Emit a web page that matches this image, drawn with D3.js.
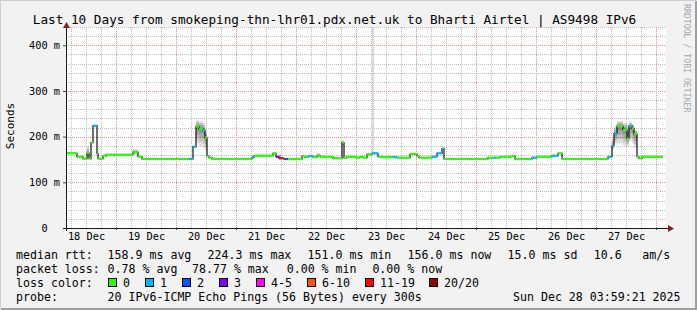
<!DOCTYPE html>
<html>
<head>
<meta charset="utf-8">
<script src="https://cdn.jsdelivr.net/npm/d3@7"></script>
<style>
  body { margin: 0; background: #f2f2f2; }
  svg { display: block; }
  text { font-family: "DejaVu Sans Mono", monospace; }
</style>
</head>
<body>
<div id="chart"></div>
<script>
//Chart text
var titleText = "Last 10 Days from smokeping-thn-lhr01.pdx.net.uk to Bharti Airtel | AS9498 IPv6";
var dayLabels = ["18 Dec", "19 Dec", "20 Dec", "21 Dec", "22 Dec", "23 Dec", "24 Dec", "25 Dec", "26 Dec", "27 Dec"];
var yTicks = [0, 100, 200, 300, 400];

//Median rtt steps: start hour (since Dec 18 04:00), median ms, loss bucket
var stepHours = [0, 4.4, 6.8, 8.4, 9.2, 10, 10.8, 12.4, 12.8, 14.8, 16, 26.8, 28.8, 30.4, 49.2, 50.8,
  52, 53.2, 54.8, 55.6, 56.4, 57.2, 58.4, 74.4, 75.2, 82.8, 84, 85.2, 87.2, 88.8, 94.4, 95.6,
  96.8, 98.8, 100.4, 101.6, 106.8, 110.4, 111.2, 112.4, 116, 117.6, 118.8, 120.4, 122.4, 124.8,
  126.8, 130.8, 132.4, 137.6, 140.4, 141.2, 146.4, 148.4, 150.4, 151.2, 168.8, 171.2, 172, 173.6,
  178.4, 179.6, 186.4, 188.4, 194.4, 196.8, 198.4, 216.8, 218.4, 219.2, 220.4, 222.8, 224.4, 225.2,
  226.4, 227.2, 228.4, 229.2, 230.4];
var lastHour = 238.8;
var medianMs = [163.5, 156, 151.7, 164, 152, 187, 224, 163, 151.7, 157.6, 160.5, 166, 156, 151, 151, 178,
  222, 217.5, 214.5, 197.7, 157.6, 154, 151, 154.8, 158.3, 163.5, 156, 152.6, 151, 151, 157.6, 155,
  157.6, 155, 158.3, 156, 152.6, 187, 154, 156, 154, 156, 154, 161, 163.5, 156,
  155, 155, 154, 162, 157.6, 154, 156, 163.5, 173.6, 151, 154, 154, 154, 156,
  157.6, 151, 154, 156, 158.3, 163.5, 151, 156, 180, 207, 223, 214.5, 196, 223,
  218, 205.8, 156, 152.6, 156];
var lossBucket = [0, 0, 0, 0, 0, 0, 1, 0, 0, 0, 0, 0, 0, 0, 1, 1,
  0, 0, 1, 0, 0, 0, 0, 1, 0, 0, 3, 6, 2, 0, 0, 0,
  1, 0, 0, 0, 0, 0, 0, 0, 0, 0, 0, 0, 1, 0,
  0, 1, 0, 0, 0, 0, 1, 1, 1, 0, 0, 1, 0, 0,
  0, 0, 1, 0, 1, 0, 0, 1, 1, 1, 0, 0, 0, 1,
  0, 0, 0, 0, 0];

//Smoke (spread of the 20 pings): start hour, end hour, low ms, high ms
var smokeStart = [8.4, 12.4, 26.8, 52, 53.2, 54.8, 55.6, 85.2, 100.4, 110.4, 218.4, 219.2, 220.4, 222.8, 224.4, 225.2, 226.4, 227.2];
var smokeEnd = [9.2, 12.8, 28.8, 53.2, 54.8, 55.6, 56.4, 86, 101.6, 111.2, 219.2, 220.4, 222.8, 224.4, 225.2, 226.4, 227.2, 228.4];
var smokeLo = [156, 158, 161, 185, 180, 175, 170, 150, 156, 180, 172, 185, 185, 180, 180, 190, 185, 175];
var smokeHi = [178, 168, 172, 236, 234, 230, 210, 162, 164, 192, 195, 222, 234, 230, 226, 232, 228, 215];
//single far outlier ping around 23 Dec
var outlierSpike = [122.4, 123.2, 163, 470];

//Legend
var lossLabels = ["0", "1", "2", "3", "4-5", "6-10", "11-19", "20/20"];
var lossColors = ["#26ff00", "#00b8ff", "#0059ff", "#7e00ff", "#ff00ff", "#ff5500", "#ff0000", "#a10000"];
var rttStats = ["158.9 ms avg", "224.3 ms max", "151.0 ms min", "156.0 ms now", "15.0 ms sd", "10.6", "am/s"];
var lossStats = ["0.78 % avg", "78.77 % max", "0.00 % min", "0.00 % now"];
var probeText = "20 IPv6-ICMP Echo Pings (56 Bytes) every 300s";
var stampText = "Sun Dec 28 03:59:21 2025";

//Layout
var width = 697, height = 310;
var plot = { left: 66, right: 666, top: 27, bottom: 228 };
var rttCols = [107.6, 207.6, 307.6, 407.6, 507.6, 593.8, 642.2];
var lossCols = [107.6, 192, 286.7, 372.4];
var swatchCols = [108.5, 145.5, 182.5, 219.5, 256.5, 307.5, 365.5, 429.5];

var svg = d3.select("#chart").append("svg")
  .attr("width", width).attr("height", height);

//Frame with rrdtool style shading
svg.append("rect").attr("width", width).attr("height", height).attr("fill", "#f2f2f2");
svg.append("path").attr("d", "M0,309 V0 H696").attr("fill", "none").attr("stroke", "#cfcfcf").attr("stroke-width", 2);
svg.append("path").attr("d", "M1,309 H696 V1").attr("fill", "none").attr("stroke", "#9e9e9e").attr("stroke-width", 2);

var x = d3.scaleLinear().domain([0, 240]).range([plot.left, plot.right]);
var y = d3.scaleLinear().domain([0, 440]).range([plot.bottom, plot.top]);

svg.append("rect")
  .attr("x", plot.left).attr("y", plot.top)
  .attr("width", plot.right - plot.left).attr("height", plot.bottom - plot.top)
  .attr("fill", "#ffffff");

svg.append("defs").append("clipPath").attr("id", "plotclip")
  .append("rect")
  .attr("x", plot.left).attr("y", plot.top)
  .attr("width", plot.right - plot.left).attr("height", plot.bottom - plot.top);

//Grid: minor every 20 ms / 6 hours, major every 100 ms / midnight
var grid = svg.append("g").attr("shape-rendering", "crispEdges");
var minorY = d3.range(20, 441, 20).filter(function (d) { return d % 100 !== 0; });
var majorY = [100, 200, 300, 400];
var minorX = d3.range(2, 240, 6).filter(function (d) { return (d - 20) % 24 !== 0; });
var majorX = d3.range(20, 240, 24);
var noonX = d3.range(8, 240, 24);

grid.selectAll(".hmin").data(minorY).enter().append("line")
  .attr("x1", plot.left).attr("x2", plot.right)
  .attr("y1", function (d) { return Math.round(y(d)) + 0.5; })
  .attr("y2", function (d) { return Math.round(y(d)) + 0.5; })
  .attr("stroke", "#bdbdbd").attr("stroke-dasharray", "1,1");
grid.selectAll(".vmin").data(minorX).enter().append("line")
  .attr("y1", plot.top).attr("y2", plot.bottom)
  .attr("x1", function (d) { return Math.round(x(d)) + 0.5; })
  .attr("x2", function (d) { return Math.round(x(d)) + 0.5; })
  .attr("stroke", "#bdbdbd").attr("stroke-dasharray", "1,1");
grid.selectAll(".hmaj").data(majorY).enter().append("line")
  .attr("x1", plot.left).attr("x2", plot.right)
  .attr("y1", function (d) { return Math.round(y(d)) + 0.5; })
  .attr("y2", function (d) { return Math.round(y(d)) + 0.5; })
  .attr("stroke", "#e68f8f").attr("stroke-dasharray", "1,1");
grid.selectAll(".vmaj").data(majorX).enter().append("line")
  .attr("y1", plot.top).attr("y2", plot.bottom)
  .attr("x1", function (d) { return Math.round(x(d)) + 0.5; })
  .attr("x2", function (d) { return Math.round(x(d)) + 0.5; })
  .attr("stroke", "#e68f8f").attr("stroke-dasharray", "1,1");

var graph = svg.append("g").attr("clip-path", "url(#plotclip)");

//Outlier smoke column
graph.append("rect")
  .attr("x", x(outlierSpike[0])).attr("width", x(outlierSpike[1]) - x(outlierSpike[0]))
  .attr("y", y(outlierSpike[3])).attr("height", y(outlierSpike[2]) - y(outlierSpike[3]))
  .attr("fill", "#d8d8d8");

//Smoke: layered grey, darker towards the median
var smoke = smokeStart.map(function (s, i) {
  var med = medianMs[d3.bisectRight(stepHours, s) - 1];
  return { s: s, e: smokeEnd[i], lo: smokeLo[i], hi: smokeHi[i], med: med };
});
[1, 0.75, 0.5, 0.25].forEach(function (f) {
  graph.selectAll(null).data(smoke).enter().append("rect")
    .attr("x", function (d) { return x(d.s); })
    .attr("width", function (d) { return x(d.e) - x(d.s); })
    .attr("y", function (d) { return y(d.med + (d.hi - d.med) * f); })
    .attr("height", function (d) {
      return y(d.med + (d.lo - d.med) * f) - y(d.med + (d.hi - d.med) * f);
    })
    .attr("fill", "#000").attr("fill-opacity", 0.13);
});

//Median line: black steps, then loss coloured plateaus
var steps = stepHours.map(function (h, i) {
  return { h: h, e: i + 1 < stepHours.length ? stepHours[i + 1] : lastHour, v: medianMs[i], loss: lossBucket[i] };
});
var stepLine = d3.line()
  .x(function (d) { return x(d.h); })
  .y(function (d) { return y(d.v); })
  .curve(d3.curveStepAfter);
graph.append("path")
  .datum(steps.concat([{ h: lastHour, v: medianMs[medianMs.length - 1] }]))
  .attr("d", stepLine)
  .attr("fill", "none").attr("stroke", "#111").attr("stroke-width", 1.2);
graph.selectAll(".plateau").data(steps).enter().append("line")
  .attr("x1", function (d) { return x(d.h); })
  .attr("x2", function (d) { return x(d.e); })
  .attr("y1", function (d) { return y(d.v); })
  .attr("y2", function (d) { return y(d.v); })
  .attr("stroke", function (d) { return lossColors[d.loss]; })
  .attr("stroke-width", 2.2);

//Y axis
svg.append("g")
  .attr("transform", "translate(" + plot.left + ",0)")
  .call(d3.axisLeft(y).tickValues(yTicks).tickSize(3).tickPadding(3)
    .tickFormat(function (d) { return d ? d + " m" : "0\u00a0\u00a0"; }))
  .call(function (g) { g.select(".domain").remove(); })
  .call(function (g) {
    g.selectAll("text").attr("font-family", "DejaVu Sans Mono").attr("font-size", 10.3).attr("fill", "#000");
    g.selectAll("line").attr("stroke", "#2c4d43");
  });

//X axis: ticks at midnight, labels at noon
svg.append("g")
  .attr("transform", "translate(0," + plot.bottom + ")")
  .call(d3.axisBottom(x).tickValues(majorX.concat([0])).tickSize(2).tickFormat(""))
  .call(function (g) { g.select(".domain").remove(); g.selectAll("line").attr("stroke", "#2c4d43"); });
svg.append("g")
  .attr("transform", "translate(0," + plot.bottom + ")")
  .call(d3.axisBottom(x).tickValues(noonX).tickSize(0).tickPadding(5)
    .tickFormat(function (d, i) { return dayLabels[i]; }))
  .call(function (g) {
    g.select(".domain").remove();
    g.selectAll("text").attr("font-family", "DejaVu Sans Mono").attr("font-size", 10.3).attr("fill", "#000");
  });

//Axis lines with arrows
svg.append("line").attr("x1", plot.left - 3).attr("x2", 669).attr("y1", plot.bottom + 0.5).attr("y2", plot.bottom + 0.5)
  .attr("stroke", "#1a1a1a");
svg.append("line").attr("x1", plot.left + 0.5).attr("x2", plot.left + 0.5).attr("y1", plot.bottom + 3).attr("y2", 26)
  .attr("stroke", "#1a1a1a");
svg.append("path").attr("d", "M668,225 L674,228.5 L668,232 Z").attr("fill", "#7f1f1f");
svg.append("path").attr("d", "M63,28 L66.5,22 L70,28 Z").attr("fill", "#7f1f1f");

//Title, axis label, watermark
svg.append("text").attr("x", 334.5).attr("y", 23.5).attr("text-anchor", "middle")
  .attr("font-size", 12.7).text(titleText);
svg.append("text").attr("transform", "translate(14,126) rotate(-90)").attr("text-anchor", "middle")
  .attr("font-size", 11).text("Seconds");
svg.append("text").attr("transform", "translate(684,4) rotate(90)")
  .attr("font-size", 8.2).attr("fill", "#a8a8a8").text("RRDTOOL / TOBI OETIKER");

//Legend block
var legend = svg.append("g").attr("font-size", 11.6).attr("fill", "#000");
legend.append("text").attr("x", 16).attr("y", 258.5).text("median rtt:");
legend.selectAll(".rtt").data(rttStats).enter().append("text")
  .attr("x", function (d, i) { return rttCols[i]; }).attr("y", 258.5).text(function (d) { return d; });
legend.append("text").attr("x", 16).attr("y", 272.5).text("packet loss:");
legend.selectAll(".ls").data(lossStats).enter().append("text")
  .attr("x", function (d, i) { return lossCols[i]; }).attr("y", 272.5).text(function (d) { return d; });
legend.append("text").attr("x", 16).attr("y", 286.5).text("loss color:");
legend.selectAll(".sw").data(lossColors).enter().append("rect")
  .attr("x", function (d, i) { return swatchCols[i]; }).attr("y", 278.5)
  .attr("width", 8).attr("height", 8)
  .attr("fill", function (d) { return d; }).attr("stroke", "#000");
legend.selectAll(".sl").data(lossLabels).enter().append("text")
  .attr("x", function (d, i) { return swatchCols[i] + 14.5; }).attr("y", 286.5).text(function (d) { return d; });
legend.append("text").attr("x", 16).attr("y", 300.5).text("probe:");
legend.append("text").attr("x", 107.6).attr("y", 300.5).text(probeText);
legend.append("text").attr("x", 513).attr("y", 300.5).text(stampText);
</script>
</body>
</html>
